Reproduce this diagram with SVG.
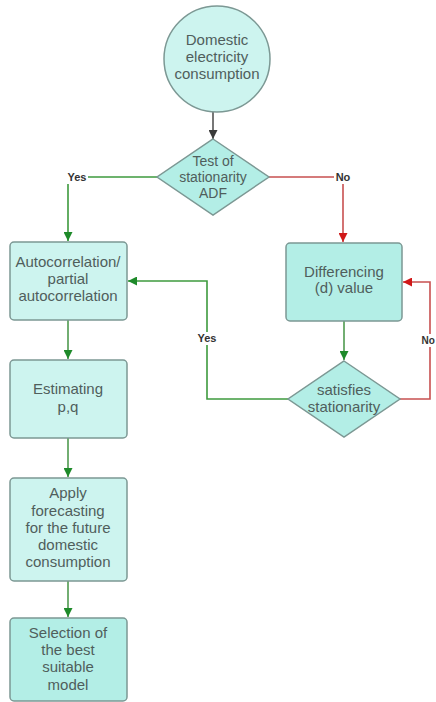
<svg xmlns="http://www.w3.org/2000/svg" width="436" height="702" viewBox="0 0 436 702">
<defs>
<style>
.node{fill:#cdf4ef;stroke:#7c9894;stroke-width:1.5}
.node2{fill:#b3eee6;stroke:#7c9894;stroke-width:1.5}
.t{font-family:"Liberation Sans",Arial,sans-serif;font-size:15px;fill:#505e5c;text-anchor:middle}
.td{font-size:14px}
.lbl{font-family:"Liberation Sans",Arial,sans-serif;font-size:11px;font-weight:bold;fill:#333;text-anchor:middle}
.c{fill:none;stroke-width:1.6}
.g{stroke:#4f9a4f}
.gl{stroke:#3e9a3e}
.r{stroke:#c85050}
.k{stroke:#555}
</style>
<marker id="ag" viewBox="0 0 10 10" refX="10" refY="5" markerWidth="9" markerHeight="9" markerUnits="userSpaceOnUse" orient="auto"><path d="M0,0 L10,5 L0,10 Z" fill="#1e8a2a"/></marker>
<marker id="ar" viewBox="0 0 10 10" refX="10" refY="5" markerWidth="9" markerHeight="9" markerUnits="userSpaceOnUse" orient="auto"><path d="M0,0 L10,5 L0,10 Z" fill="#d01818"/></marker>
<marker id="ak" viewBox="0 0 10 10" refX="10" refY="5" markerWidth="9" markerHeight="9" markerUnits="userSpaceOnUse" orient="auto"><path d="M0,0 L10,5 L0,10 Z" fill="#3a3a3a"/></marker>
</defs>
<rect width="436" height="702" fill="#fff"/>
<g id="connectors">
<path class="c k" d="M213,112 V139" marker-end="url(#ak)"/>
<path class="c gl" d="M157,177 H68 V241" marker-end="url(#ag)"/>
<path class="c r" d="M269,177 H343 V242" marker-end="url(#ar)"/>
<path class="c g" d="M68,320 V359" marker-end="url(#ag)"/>
<path class="c g" d="M68,438 V477" marker-end="url(#ag)"/>
<path class="c g" d="M68,581 V617" marker-end="url(#ag)"/>
<path class="c g" d="M344,321 V360" marker-end="url(#ag)"/>
<path class="c gl" d="M288,399 H207 V281 H128" marker-end="url(#ag)"/>
<path class="c r" d="M400,399 H430 V282 H403" marker-end="url(#ar)"/>
<rect x="66" y="171" width="22" height="13" fill="#fff"/>
<text class="lbl" x="77" y="181">Yes</text>
<rect x="334" y="171" width="18" height="13" fill="#fff"/>
<text class="lbl" x="343" y="181">No</text>
<rect x="196" y="332" width="22" height="13" fill="#fff"/>
<text class="lbl" x="207" y="342">Yes</text>
<rect x="421" y="334" width="15" height="13" fill="#fff"/>
<text class="lbl" x="421.5" y="344" style="text-anchor:start;font-size:10px">No</text>
</g>
<g id="start">
<circle class="node" cx="217" cy="59" r="53"/>
<text class="t" x="217" y="45">Domestic</text>
<text class="t" x="217" y="62">electricity</text>
<text class="t" x="217" y="79">consumption</text>
</g>
<g id="adf">
<polygon class="node2" points="213,139 269,177 213,215 157,177"/>
<text class="t td" x="213" y="166">Test of</text>
<text class="t td" x="213" y="182">stationarity</text>
<text class="t td" x="213" y="198">ADF</text>
</g>
<g id="acf">
<rect class="node" x="10" y="242" width="117" height="78" rx="4"/>
<text class="t" x="68" y="267">Autocorrelation/</text>
<text class="t" x="68" y="284">partial</text>
<text class="t" x="68" y="301">autocorrelation</text>
</g>
<g id="diff">
<rect class="node2" x="286" y="243" width="116" height="78" rx="4"/>
<text class="t" x="344" y="277">Differencing</text>
<text class="t" x="344" y="293">(d) value</text>
</g>
<g id="sat">
<polygon class="node2" points="344,361 400,399 344,437 288,399"/>
<text class="t" x="344" y="395">satisfies</text>
<text class="t" x="344" y="412">stationarity</text>
</g>
<g id="est">
<rect class="node" x="10" y="360" width="117" height="78" rx="4"/>
<text class="t" x="68" y="394">Estimating</text>
<text class="t" x="68" y="412">p,q</text>
</g>
<g id="apply">
<rect class="node" x="10" y="478" width="117" height="103" rx="4"/>
<text class="t" x="68" y="498">Apply</text>
<text class="t" x="68" y="516">forecasting</text>
<text class="t" x="68" y="533">for the future</text>
<text class="t" x="68" y="550">domestic</text>
<text class="t" x="68" y="567">consumption</text>
</g>
<g id="select">
<rect class="node2" x="10" y="618" width="117" height="83" rx="4"/>
<text class="t" x="68" y="638">Selection of</text>
<text class="t" x="68" y="655">the best</text>
<text class="t" x="68" y="672">suitable</text>
<text class="t" x="68" y="690">model</text>
</g>
</svg>
